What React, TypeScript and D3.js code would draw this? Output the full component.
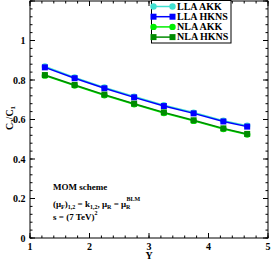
import React from 'react';
import * as d3 from 'd3';

// rapidity values
const yVals = [1.25, 1.75, 2.25, 2.75, 3.25, 3.75, 4.25, 4.65];

// C2/C1 ratios
const llaAkk = [0.868, 0.813, 0.762, 0.716, 0.672, 0.635, 0.594, 0.568];
const llaHkns = [0.864, 0.809, 0.758, 0.712, 0.668, 0.631, 0.590, 0.564];
const nlaAkk = [0.822, 0.772, 0.723, 0.677, 0.633, 0.593, 0.552, 0.524];
const nlaHkns = [0.825, 0.775, 0.726, 0.680, 0.636, 0.596, 0.555, 0.527];

const seriesNames = ['LLA AKK', 'LLA HKNS', 'NLA AKK', 'NLA HKNS'];
const seriesColors = ['#40E0D0', '#0000FF', '#00EE00', '#008B00'];
const seriesMarkers = ['circle', 'square', 'circle', 'square'];
const seriesValues = [llaAkk, llaHkns, nlaAkk, nlaHkns];

const xTicks = [1, 2, 3, 4, 5];
const yTicks = [0, 0.2, 0.4, 0.6, 0.8, 1];

const font = "'Liberation Serif', 'Times New Roman', serif";

const Marker = ({ kind, x, y, color }: { kind: string; x: number; y: number; color: string }) =>
  kind === 'circle'
    ? <circle cx={x} cy={y} r={3.2} fill={color} />
    : <rect x={x - 3} y={y - 3} width={6} height={6} fill={color} />;

const App = () => {
  const left = 30, right = 268, top = 1, bottom = 238;

  const x = d3.scaleLinear().domain([1, 5]).range([left, right]);
  const y = d3.scaleLinear().domain([0, 1.2]).range([bottom, top]);

  const xMinor = d3.range(1, 5.001, 0.2);
  const yMinor = d3.range(0, 1.2001, 0.04);

  const line = d3.line<number>()
    .x((_, i) => x(yVals[i]))
    .y(d => y(d));

  return (
    <div style={{ position: 'fixed', left: 0, top: 0 }}>
      <svg width={271} height={260} style={{ display: 'block', fontFamily: font, fontWeight: 'bold' }}>
        <rect width={271} height={260} fill="white" />

        {/* minor ticks */}
        {xMinor.map((t, i) => (
          <g key={'xm' + i} stroke="black" strokeWidth={1}>
            <line x1={x(t)} x2={x(t)} y1={bottom} y2={bottom - 2.5} />
            <line x1={x(t)} x2={x(t)} y1={top} y2={top + 2.5} />
          </g>
        ))}
        {yMinor.map((t, i) => (
          <g key={'ym' + i} stroke="black" strokeWidth={1}>
            <line x1={left} x2={left + 2.5} y1={y(t)} y2={y(t)} />
            <line x1={right} x2={right - 2.5} y1={y(t)} y2={y(t)} />
          </g>
        ))}

        {/* major ticks and labels */}
        {xTicks.map(t => (
          <g key={'x' + t}>
            <line x1={x(t)} x2={x(t)} y1={bottom} y2={bottom - 5} stroke="black" />
            <line x1={x(t)} x2={x(t)} y1={top} y2={top + 5} stroke="black" />
            <text x={x(t)} y={249.5} fontSize={10} textAnchor="middle">{t}</text>
          </g>
        ))}
        {d3.range(0, 1.2001, 0.2).map(t => (
          <g key={'y' + t}>
            <line x1={left} x2={left + 5} y1={y(t)} y2={y(t)} stroke="black" />
            <line x1={right} x2={right - 5} y1={y(t)} y2={y(t)} stroke="black" />
          </g>
        ))}
        {yTicks.map(t => (
          <text key={'yl' + t} x={25.5} y={y(t) + 3.5} fontSize={10} textAnchor="end">
            {t === 0 || t === 1 ? String(t) : t.toFixed(1)}
          </text>
        ))}

        {/* frame */}
        <rect x={left} y={top} width={right - left} height={bottom - top} fill="none" stroke="black" strokeWidth={1} />

        {/* axis titles */}
        <text x={x(3)} y={259} fontSize={10} textAnchor="middle">Y</text>
        <text transform={`translate(12.5, 118) rotate(-90)`} fontSize={10} textAnchor="middle">
          C<tspan fontSize={7} dy={2.5}>2</tspan><tspan dy={-2.5}>/C</tspan><tspan fontSize={7} dy={2.5}>1</tspan>
        </text>

        {/* series */}
        {seriesValues.map((vals, s) => (
          <g key={'s' + s}>
            <path d={line(vals) || ''} fill="none" stroke={seriesColors[s]} strokeWidth={1.5} />
            {vals.map((v, i) => (
              <Marker key={i} kind={seriesMarkers[s]} x={x(yVals[i])} y={y(v)} color={seriesColors[s]} />
            ))}
          </g>
        ))}

        {/* legend */}
        <rect x={151.5} y={0.5} width={79.5} height={42.5} fill="white" stroke="black" strokeWidth={1} />
        {seriesNames.map((n, i) => {
          const ly = 6.5 + i * 10.2;
          return (
            <g key={'l' + i}>
              <line x1={153.5} x2={172.5} y1={ly} y2={ly} stroke={seriesColors[i]} strokeWidth={1.5} />
              <Marker kind={seriesMarkers[i]} x={153.5} y={ly} color={seriesColors[i]} />
              <Marker kind={seriesMarkers[i]} x={172.5} y={ly} color={seriesColors[i]} />
              <text x={177} y={ly + 3.2} fontSize={10}>{n}</text>
            </g>
          );
        })}

        {/* annotation */}
        <g fontSize={9}>
          <text x={53} y={189.5}>MOM scheme</text>
          <text x={53} y={206.5}>
            (μ<tspan fontSize={6} dy={2}>F</tspan><tspan dy={-2}>)</tspan><tspan fontSize={6} dy={2}>1,2</tspan>
            <tspan dy={-2}> = k</tspan><tspan fontSize={6} dy={2}>1,2</tspan>
            <tspan dy={-2}>, μ</tspan><tspan fontSize={6} dy={2}>R</tspan>
            <tspan dy={-2}> = μ</tspan><tspan fontSize={6} dy={2}>R</tspan>
            <tspan fontSize={6} dx={-4} dy={-8}>BLM</tspan>
          </text>
          <text x={53} y={219.5}>
            s = (7 TeV)<tspan fontSize={6} dy={-5}>2</tspan>
          </text>
        </g>
      </svg>
    </div>
  );
};

export default App;
